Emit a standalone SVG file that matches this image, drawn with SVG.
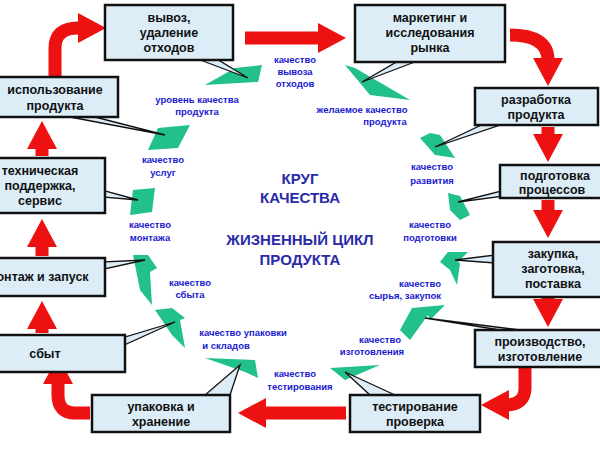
<svg xmlns="http://www.w3.org/2000/svg" width="600" height="450" viewBox="0 0 600 450">
<defs>
<marker id="ah" markerUnits="userSpaceOnUse" markerWidth="30" markerHeight="30" refX="4" refY="15" orient="auto" viewBox="0 0 30 30"><path d="M0,0 L28,15 L0,30 Z" fill="#ee1111"/></marker>
</defs>
<style>
.box{fill:#dcedf8;stroke:#111;stroke-width:2.5}
.bt{font-family:"Liberation Sans",Arial,sans-serif;font-size:12.5px;font-weight:bold;fill:#111;text-anchor:middle}
.bl{font-family:"Liberation Sans",Arial,sans-serif;font-size:9.5px;font-weight:bold;fill:#1a1ad0;text-anchor:middle}
.ct{font-family:"Liberation Sans",Arial,sans-serif;font-size:15px;font-weight:bold;fill:#2a2aa8;text-anchor:middle}
.ar{fill:none;stroke:#ee1111;stroke-width:13;marker-end:url(#ah)}
.g{fill:#22c08a}
.ptr{fill:#dcedf8;stroke:#111;stroke-width:1.3}
</style>
<rect width="600" height="450" fill="#fff"/>
<g id="connectors">
<path class="ar" d="M55,78 V48 Q55,28 78,28 H82"/>
<path class="ar" d="M245,38 H322"/>
<path class="ar" d="M510,35 Q548,35 548,60 V62"/>
<path class="ar" d="M548,127 V138"/>
<path class="ar" d="M548,200 V214"/>
<path class="ar" d="M548,298 V303"/>
<path class="ar" d="M525,368 V388 Q525,405 505,405"/>
<path class="ar" d="M346,413 H262"/>
<path class="ar" d="M90,413 H75 Q58,413 58,395 V380"/>
<path class="ar" d="M42,333 V325"/>
<path class="ar" d="M42,256 V243"/>
<path class="ar" d="M42,156 V145"/>
</g>
<g id="ring">
<polygon class="g" points="205,85 235,68 262,65 258,82"/>
<polygon class="g" points="148,150 158,128 190,125 178,148"/>
<polygon class="g" points="130,215 133,190 155,188 152,212"/>
<polygon class="g" points="133,255 148,255 157,268 150,272 152,305 140,290"/>
<polygon class="g" points="155,310 172,308 185,318 180,320 185,348 172,335"/>
<polygon class="g" points="205,358 255,360 258,378 245,372"/>
<polygon class="g" points="330,368 380,365 345,380 340,376"/>
<polygon class="g" points="400,330 412,308 445,305 430,320 428,315 410,340"/>
<polygon class="g" points="440,262 448,252 468,252 458,262 460,263 457,285 450,270"/>
<polygon class="g" points="448,193 460,196 470,215 460,220 450,210"/>
<polygon class="g" points="420,138 430,133 440,135 455,158 435,155"/>
<polygon class="g" points="345,65 355,68 410,100 370,95"/>
</g>
<g id="pointers">
<polygon class="ptr" points="195,58 215,58 248,78"/>
<polygon class="ptr" points="400,60 420,60 362,82"/>
<polygon class="ptr" points="492,120 500,125 435,147"/>
<polygon class="ptr" points="505,190 505,196 458,202"/>
<polygon class="ptr" points="495,255 495,263 455,260"/>
<polygon class="ptr" points="500,330 520,330 425,318"/>
<polygon class="ptr" points="370,395 395,395 345,372"/>
<polygon class="ptr" points="205,395 230,395 240,365"/>
<polygon class="ptr" points="122,338 122,346 175,322"/>
<polygon class="ptr" points="100,262 100,270 145,260"/>
<polygon class="ptr" points="102,190 102,197 138,200"/>
<polygon class="ptr" points="70,117 95,117 165,135"/>
</g>
<g id="n1"><rect class="box" x="105" y="5" width="128" height="55"/><text class="bt" x="169" y="22">вывоз,</text><text class="bt" x="169" y="37">удаление</text><text class="bt" x="169" y="52">отходов</text></g>
<g id="n2"><rect class="box" x="355" y="5" width="150" height="57"/><text class="bt" x="430" y="22">маркетинг и</text><text class="bt" x="430" y="37">исследования</text><text class="bt" x="430" y="52">рынка</text></g>
<g id="n3"><rect class="box" x="475" y="88" width="123" height="37"/><text class="bt" x="536" y="104">разработка</text><text class="bt" x="536" y="119">продукта</text></g>
<g id="n4"><rect class="box" x="500" y="165" width="105" height="33"/><text class="bt" x="555" y="180">подготовка</text><text class="bt" x="552" y="194">процессов</text></g>
<g id="n5"><rect class="box" x="493" y="242" width="112" height="55"/><text class="bt" x="553" y="258">закупка,</text><text class="bt" x="553" y="273">заготовка,</text><text class="bt" x="553" y="288">поставка</text></g>
<g id="n6"><rect class="box" x="475" y="330" width="130" height="37"/><text class="bt" x="540" y="346">производство,</text><text class="bt" x="540" y="361">изготовление</text></g>
<g id="n7"><rect class="box" x="350" y="395" width="130" height="37"/><text class="bt" x="415" y="411">тестирование</text><text class="bt" x="415" y="426">проверка</text></g>
<g id="n8"><rect class="box" x="92" y="395" width="138" height="37"/><text class="bt" x="161" y="411">упаковка и</text><text class="bt" x="161" y="426">хранение</text></g>
<g id="n9"><rect class="box" x="-5" y="335" width="130" height="37"/><text class="bt" x="45" y="358">сбыт</text></g>
<g id="n10"><rect class="box" x="-5" y="258" width="110" height="38"/><text class="bt" x="38" y="281">монтаж и запуск</text></g>
<g id="n11"><rect class="box" x="-5" y="158" width="110" height="55"/><text class="bt" x="40" y="175">техническая</text><text class="bt" x="40" y="190">поддержка,</text><text class="bt" x="40" y="205">сервис</text></g>
<g id="n12"><rect class="box" x="-5" y="77" width="123" height="40"/><text class="bt" x="55" y="94">использование</text><text class="bt" x="55" y="110">продукта</text></g>
<g id="labels">
<text class="bl" x="295" y="63">качество</text><text class="bl" x="295" y="75">вывоза</text><text class="bl" x="295" y="87">отходов</text>
<text class="bl" x="197" y="103">уровень качества</text><text class="bl" x="197" y="115">продукта</text>
<text class="bl" x="362" y="113">желаемое качество</text><text class="bl" x="385" y="125">продукта</text>
<text class="bl" x="432" y="170">качество</text><text class="bl" x="432" y="184">развития</text>
<text class="bl" x="163" y="163">качество</text><text class="bl" x="163" y="176">услуг</text>
<text class="bl" x="150" y="228">качество</text><text class="bl" x="150" y="241">монтажа</text>
<text class="bl" x="430" y="228">качество</text><text class="bl" x="430" y="241">подготовки</text>
<text class="bl" x="190" y="286">качество</text><text class="bl" x="190" y="298">сбыта</text>
<text class="bl" x="420" y="287">качество</text><text class="bl" x="405" y="299">сырья, закупок</text>
<text class="bl" x="243" y="336">качество упаковки</text><text class="bl" x="226" y="349">и складов</text>
<text class="bl" x="380" y="343">качество</text><text class="bl" x="372" y="355">изготовления</text>
<text class="bl" x="295" y="377">качество</text><text class="bl" x="300" y="390">тестирования</text>
</g>
<g id="center">
<text class="ct" x="300" y="184">КРУГ</text><text class="ct" x="300" y="203">КАЧЕСТВА</text>
<text class="ct" x="300" y="245">ЖИЗНЕННЫЙ ЦИКЛ</text><text class="ct" x="300" y="265">ПРОДУКТА</text>
</g>
</svg>
